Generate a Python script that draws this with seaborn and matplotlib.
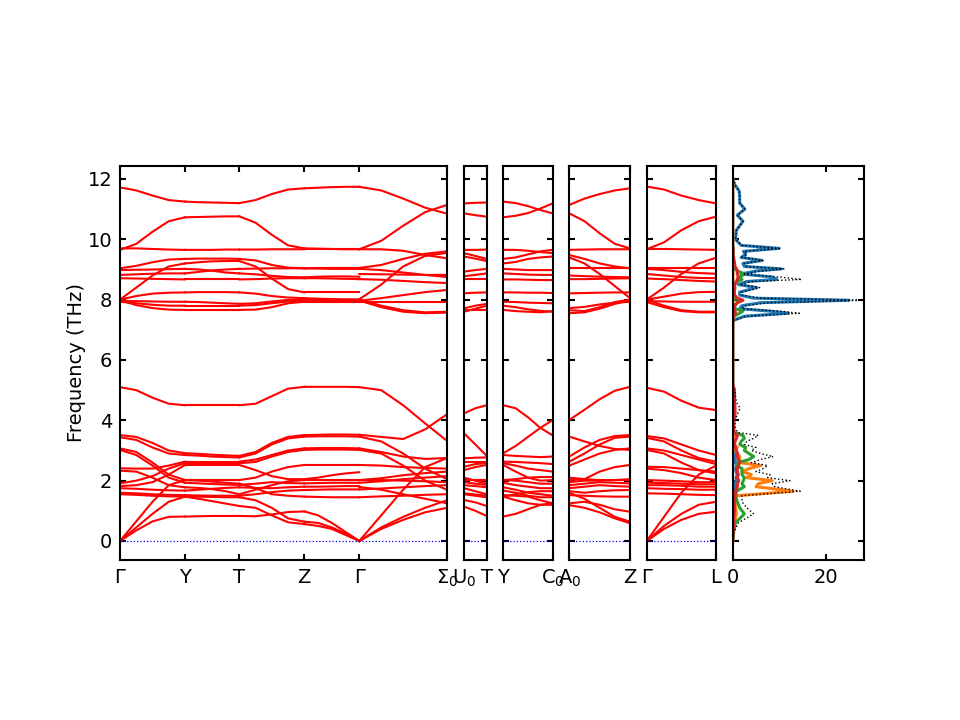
import numpy as np
import pandas as pd
import matplotlib
matplotlib.use("Agg")
import matplotlib.pyplot as plt
import seaborn as sns

# ---------------- band-structure data (THz) ----------------
# each segment: list of bands, values sampled evenly along the segment
labels_p1 = ["Γ", "Y", "T", "Z", "Γ", "Σ$_0$"]
lengths_p1 = [0.0650, 0.0543, 0.0650, 0.0550, 0.0877]
labels_p2 = ["U$_0$", "T"]
lengths_p2 = [0.0227]
labels_p3 = ["Y", "C$_0$"]
lengths_p3 = [0.0494]
labels_p4 = ["A$_0$", "Z"]
lengths_p4 = [0.0607]
labels_p5 = ["Γ", "L"]
lengths_p5 = [0.0693]

bands_G_Y = [
    [11.72, 11.62, 11.45, 11.30, 11.25], [9.65, 9.85, 10.25, 10.60, 10.73],
    [9.70, 9.70, 9.68, 9.66, 9.65], [9.04, 9.12, 9.24, 9.33, 9.35],
    [8.00, 8.40, 8.80, 9.10, 9.20], [8.98, 8.99, 9.00, 9.01, 9.02],
    [8.82, 8.84, 8.86, 8.87, 8.87], [8.71, 8.70, 8.69, 8.68, 8.67],
    [8.00, 8.12, 8.20, 8.23, 8.24], [7.96, 7.95, 7.94, 7.93, 7.93],
    [7.93, 7.88, 7.83, 7.80, 7.80], [7.98, 7.82, 7.72, 7.67, 7.66],
    [5.10, 5.00, 4.75, 4.55, 4.50], [3.51, 3.45, 3.25, 3.00, 2.91],
    [3.44, 3.35, 3.10, 2.90, 2.85], [3.07, 2.95, 2.60, 2.20, 2.02],
    [3.02, 2.85, 2.50, 2.10, 1.93], [2.41, 2.40, 2.40, 2.50, 2.63],
    [2.33, 2.30, 2.10, 1.85, 1.78], [1.91, 2.00, 2.15, 2.40, 2.58],
    [1.82, 1.85, 1.95, 2.20, 2.52], [1.75, 1.73, 1.70, 1.68, 1.67],
    [1.60, 1.58, 1.55, 1.53, 1.52], [1.55, 1.53, 1.50, 1.48, 1.47],
    [0.00, 0.65, 1.30, 1.85, 2.02], [0.00, 0.45, 0.90, 1.30, 1.47],
    [0.00, 0.35, 0.65, 0.80, 0.81],
]
bands_Y_T = [
    [11.25, 11.23, 11.22, 11.21, 11.20], [10.73, 10.74, 10.75, 10.76, 10.76],
    [9.65, 9.65, 9.65, 9.66, 9.66], [9.35, 9.36, 9.36, 9.36, 9.35],
    [9.20, 9.24, 9.27, 9.28, 9.28], [9.02, 9.00, 8.96, 8.90, 8.87],
    [8.87, 8.92, 8.97, 9.00, 9.02], [8.67, 8.67, 8.67, 8.67, 8.67],
    [8.24, 8.25, 8.25, 8.25, 8.24], [7.93, 7.92, 7.90, 7.88, 7.86],
    [7.80, 7.80, 7.80, 7.80, 7.80], [7.66, 7.66, 7.66, 7.66, 7.66],
    [4.50, 4.50, 4.50, 4.50, 4.50], [2.91, 2.89, 2.86, 2.84, 2.82],
    [2.85, 2.83, 2.80, 2.78, 2.77], [2.63, 2.63, 2.63, 2.63, 2.63],
    [2.58, 2.58, 2.58, 2.58, 2.58], [2.52, 2.52, 2.52, 2.52, 2.52],
    [2.02, 2.02, 2.02, 2.02, 2.02], [1.93, 1.91, 1.89, 1.87, 1.86],
    [1.78, 1.76, 1.72, 1.65, 1.55], [1.67, 1.70, 1.73, 1.76, 1.78],
    [1.52, 1.51, 1.50, 1.50, 1.50], [1.47, 1.40, 1.32, 1.24, 1.16],
    [0.81, 0.82, 0.83, 0.83, 0.83], [2.02, 2.00, 1.97, 1.93, 1.90],
    [1.47, 1.47, 1.46, 1.45, 1.45],
]
bands_T_Z = [
    [11.20, 11.30, 11.50, 11.65, 11.69], [10.76, 10.55, 10.15, 9.80, 9.70],
    [9.66, 9.66, 9.67, 9.67, 9.67], [9.35, 9.30, 9.15, 9.06, 9.04],
    [9.28, 9.10, 8.70, 8.35, 8.24], [9.02, 9.03, 9.04, 9.04, 9.04],
    [8.87, 8.84, 8.79, 8.75, 8.74], [8.67, 8.68, 8.70, 8.71, 8.71],
    [8.24, 8.20, 8.12, 8.07, 8.05], [7.86, 7.88, 7.94, 7.99, 8.00],
    [7.80, 7.82, 7.88, 7.94, 7.97], [7.66, 7.67, 7.75, 7.88, 7.93],
    [4.50, 4.55, 4.80, 5.05, 5.11], [2.82, 2.95, 3.25, 3.45, 3.51],
    [2.77, 2.90, 3.20, 3.40, 3.46], [2.63, 2.70, 2.85, 3.00, 3.07],
    [2.58, 2.62, 2.80, 2.95, 3.02], [2.52, 2.35, 2.15, 2.05, 2.05],
    [2.02, 2.10, 2.30, 2.45, 2.52], [1.86, 1.90, 1.95, 1.92, 1.91],
    [1.55, 1.70, 1.85, 1.98, 2.02], [1.78, 1.76, 1.75, 1.78, 1.80],
    [1.50, 1.55, 1.62, 1.67, 1.69], [1.16, 1.10, 0.85, 0.62, 0.56],
    [0.83, 0.82, 0.88, 0.96, 0.98], [1.90, 1.75, 1.55, 1.50, 1.47],
    [1.45, 1.35, 1.10, 0.75, 0.64],
]
bands_Z_G = [
    [11.69, 11.71, 11.73, 11.74, 11.74], [9.70, 9.69, 9.68, 9.67, 9.67],
    [9.67, 9.67, 9.67, 9.67, 9.67], [9.04, 9.05, 9.05, 9.05, 9.05],
    [8.24, 8.24, 8.24, 8.24, 8.24], [9.04, 9.03, 9.02, 9.02, 9.02],
    [8.74, 8.76, 8.77, 8.77, 8.76], [8.71, 8.71, 8.70, 8.69, 8.68],
    [8.05, 8.03, 8.02, 8.01, 8.01], [8.00, 8.00, 8.00, 8.00, 8.00],
    [7.97, 7.97, 7.96, 7.96, 7.96], [7.93, 7.93, 7.93, 7.93, 7.93],
    [5.11, 5.11, 5.11, 5.11, 5.10], [3.51, 3.52, 3.53, 3.53, 3.52],
    [3.46, 3.47, 3.47, 3.47, 3.46], [3.07, 3.08, 3.08, 3.08, 3.07],
    [3.02, 3.03, 3.03, 3.03, 3.02], [2.52, 2.52, 2.52, 2.52, 2.52],
    [2.05, 2.10, 2.18, 2.24, 2.28], [2.02, 2.02, 2.02, 2.02, 2.02],
    [1.91, 1.92, 1.93, 1.93, 1.93], [1.80, 1.80, 1.81, 1.82, 1.82],
    [1.69, 1.70, 1.71, 1.71, 1.71], [1.47, 1.46, 1.45, 1.45, 1.45],
    [0.98, 0.85, 0.60, 0.30, 0.00], [0.64, 0.60, 0.45, 0.25, 0.00],
    [0.56, 0.50, 0.40, 0.20, 0.00],
]
bands_G_S0 = [
    [11.74, 11.62, 11.35, 11.05, 10.85], [9.67, 9.95, 10.45, 10.90, 11.14],
    [9.67, 9.67, 9.62, 9.48, 9.37], [8.01, 8.50, 9.10, 9.45, 9.55],
    [9.05, 9.15, 9.35, 9.52, 9.60], [8.85, 8.84, 8.83, 8.82, 8.82],
    [9.02, 8.98, 8.90, 8.82, 8.75], [8.68, 8.66, 8.62, 8.58, 8.55],
    [7.96, 8.05, 8.15, 8.25, 8.32], [7.93, 7.93, 7.93, 7.93, 7.93],
    [8.00, 7.80, 7.65, 7.58, 7.60], [7.97, 7.75, 7.60, 7.55, 7.57],
    [5.10, 5.00, 4.50, 3.90, 3.32], [3.52, 3.45, 3.38, 3.70, 4.20],
    [3.46, 3.30, 2.90, 2.40, 2.05], [3.07, 2.95, 2.80, 2.72, 2.75],
    [3.02, 2.90, 2.50, 2.00, 1.70], [2.52, 2.50, 2.45, 2.42, 2.40],
    [2.02, 2.08, 2.18, 2.25, 2.30], [1.93, 1.98, 2.05, 2.10, 2.15],
    [1.79, 1.70, 1.55, 1.40, 1.25], [1.71, 1.74, 1.78, 1.82, 1.85],
    [1.45, 1.48, 1.50, 1.53, 1.55], [2.02, 2.02, 2.00, 1.98, 1.95],
    [0.00, 0.85, 1.70, 2.45, 2.75], [0.00, 0.45, 0.80, 1.10, 1.35],
    [0.00, 0.40, 0.70, 0.95, 1.10],
]
bands_U0_T = [
    [11.19, 11.21, 11.22], [10.86, 10.80, 10.75], [9.65, 9.65, 9.66],
    [9.54, 9.45, 9.35], [9.43, 9.36, 9.28], [8.93, 8.98, 9.02],
    [8.78, 8.82, 8.87], [8.67, 8.67, 8.67], [8.21, 8.23, 8.24],
    [7.71, 7.80, 7.86], [7.60, 7.70, 7.80], [7.65, 7.66, 7.66],
    [4.23, 4.40, 4.50], [3.57, 3.20, 2.82], [2.74, 2.76, 2.77],
    [2.63, 2.63, 2.63], [2.46, 2.55, 2.58], [2.35, 2.45, 2.52],
    [2.02, 2.02, 2.02], [1.95, 1.90, 1.86], [1.85, 1.82, 1.78],
    [1.75, 1.65, 1.55], [1.58, 1.54, 1.50], [1.36, 1.28, 1.16],
    [1.14, 1.00, 0.83], [2.10, 2.00, 1.90], [1.55, 1.50, 1.45],
]
bands_Y_C0 = [
    [11.25, 11.20, 11.10, 10.97, 10.86], [10.73, 10.78, 10.87, 11.02, 11.19],
    [9.65, 9.65, 9.62, 9.58, 9.54], [9.35, 9.40, 9.50, 9.60, 9.65],
    [9.20, 9.25, 9.35, 9.40, 9.43], [9.02, 9.00, 8.98, 8.98, 8.98],
    [8.87, 8.85, 8.83, 8.82, 8.82], [8.67, 8.67, 8.66, 8.65, 8.65],
    [8.24, 8.24, 8.23, 8.23, 8.22], [7.93, 7.92, 7.90, 7.89, 7.88],
    [7.80, 7.75, 7.68, 7.63, 7.60], [7.66, 7.62, 7.60, 7.58, 7.62],
    [4.50, 4.40, 4.10, 3.75, 3.50], [2.91, 3.15, 3.45, 3.75, 4.01],
    [2.85, 2.82, 2.80, 2.78, 2.80], [2.63, 2.62, 2.60, 2.58, 2.55],
    [2.58, 2.50, 2.40, 2.35, 2.30], [2.52, 2.30, 2.10, 2.00, 2.02],
    [2.02, 2.00, 1.95, 1.90, 1.90], [1.93, 1.85, 1.80, 1.75, 1.75],
    [1.78, 1.70, 1.60, 1.55, 1.50], [1.67, 1.60, 1.50, 1.45, 1.45],
    [1.52, 1.50, 1.47, 1.35, 1.25], [1.47, 1.35, 1.25, 1.20, 1.20],
    [0.81, 0.90, 1.05, 1.20, 1.25], [2.02, 2.05, 2.10, 2.12, 2.12],
    [1.47, 1.55, 1.62, 1.65, 1.65],
]
bands_A0_Z = [
    [11.14, 11.35, 11.50, 11.62, 11.69], [10.86, 10.60, 10.20, 9.85, 9.70],
    [9.65, 9.66, 9.67, 9.67, 9.67], [9.48, 9.35, 9.20, 9.10, 9.04],
    [9.40, 9.20, 8.85, 8.45, 8.05], [9.04, 9.04, 9.04, 9.04, 9.04],
    [8.80, 8.78, 8.76, 8.75, 8.74], [8.68, 8.68, 8.69, 8.70, 8.71],
    [8.21, 8.22, 8.23, 8.24, 8.24], [7.65, 7.62, 7.75, 7.92, 8.00],
    [7.55, 7.58, 7.70, 7.86, 7.97], [7.72, 7.76, 7.84, 7.90, 7.93],
    [4.01, 4.35, 4.70, 4.98, 5.11], [3.46, 3.30, 3.15, 3.05, 3.02],
    [2.80, 3.10, 3.35, 3.48, 3.51], [2.63, 2.90, 3.20, 3.42, 3.46],
    [2.50, 2.70, 2.90, 3.02, 3.07], [2.02, 2.05, 2.30, 2.45, 2.52],
    [1.95, 2.00, 2.00, 2.02, 2.05], [1.85, 1.90, 1.95, 1.93, 1.91],
    [1.75, 1.80, 1.85, 1.82, 1.80], [1.65, 1.60, 1.65, 1.68, 1.69],
    [1.52, 1.50, 1.48, 1.47, 1.47], [1.19, 1.10, 0.95, 0.75, 0.59],
    [1.25, 1.30, 1.20, 1.05, 0.97], [1.60, 1.40, 1.10, 0.80, 0.64],
    [2.10, 2.05, 2.02, 2.02, 2.02],
]
bands_G_L = [
    [11.75, 11.65, 11.45, 11.30, 11.19], [9.67, 9.90, 10.30, 10.60, 10.75],
    [9.68, 9.68, 9.67, 9.66, 9.65], [8.00, 8.40, 8.85, 9.20, 9.39],
    [9.04, 9.04, 9.04, 9.04, 9.04], [8.85, 8.80, 8.75, 8.72, 8.71],
    [8.70, 8.68, 8.65, 8.62, 8.60], [8.00, 8.10, 8.20, 8.25, 8.26],
    [7.95, 7.94, 7.93, 7.93, 7.93], [8.00, 7.80, 7.65, 7.60, 7.60],
    [7.92, 7.75, 7.62, 7.58, 7.58], [9.02, 8.98, 8.92, 8.88, 8.86],
    [5.08, 4.95, 4.65, 4.42, 4.34], [3.48, 3.40, 3.20, 3.00, 2.85],
    [3.42, 3.30, 3.00, 2.75, 2.63], [3.07, 3.00, 2.85, 2.70, 2.55],
    [3.02, 2.90, 2.60, 2.35, 2.24], [2.46, 2.45, 2.40, 2.35, 2.30],
    [2.40, 2.35, 2.25, 2.10, 2.02], [2.02, 2.00, 1.98, 1.95, 1.95],
    [1.85, 1.85, 1.83, 1.80, 1.80], [1.75, 1.73, 1.72, 1.70, 1.70],
    [1.58, 1.57, 1.55, 1.53, 1.52], [1.93, 1.92, 1.90, 1.88, 1.88],
    [0.00, 0.80, 1.60, 2.20, 2.50], [0.00, 0.50, 0.90, 1.20, 1.30],
    [0.00, 0.40, 0.70, 0.90, 0.97],
]

# ---------------- DOS data ----------------
dos_freq = [0.0, 0.3, 0.6, 0.9, 1.1, 1.3, 1.5, 1.65, 1.8, 1.9, 2.0, 2.1, 2.2, 2.3,
            2.4, 2.5, 2.6, 2.7, 2.8, 2.9, 3.0, 3.1, 3.2, 3.3, 3.4, 3.5, 3.6, 3.8,
            4.0, 4.2, 4.4, 4.6, 4.8, 5.0, 5.2, 7.3, 7.45, 7.55, 7.62, 7.7, 7.8,
            7.9, 7.98, 8.05, 8.15, 8.25, 8.4, 8.5, 8.6, 8.67, 8.75, 8.85, 8.95,
            9.02, 9.1, 9.2, 9.3, 9.4, 9.5, 9.6, 9.7, 9.8, 10.0, 10.3, 10.6, 10.8,
            11.0, 11.2, 11.4, 11.6, 11.8, 12.0]
dos_total = [0, 0.3, 1.2, 4.5, 3.0, 2.0, 2.0, 14.5, 9.0, 8.5, 12.3, 7.5, 8.0, 5.0,
             6.5, 7.5, 4.0, 6.0, 8.7, 6.0, 4.0, 5.0, 2.5, 3.0, 4.5, 5.5, 1.0, 0.5,
             0.5, 1.0, 1.6, 0.8, 0.6, 0.4, 0, 0, 3, 14.3, 10, 2, 2.5,
             8, 28.5, 6, 2, 2, 5.8, 1.5, 4, 14.8, 10, 2.5, 6,
             11, 3, 2.5, 6.5, 2, 3, 2.5, 10, 2, 0.6, 0.8, 2.2, 1.0,
             2.6, 1.5, 1.5, 1.4, 0.5, 0]
dos_site1 = [0, 0.05, 0.1, 0.2, 0.2, 0.2, 0.3, 0.4, 0.5, 0.5, 0.8, 0.7, 1.0, 0.7,
             0.6, 0.8, 0.6, 0.5, 0.6, 0.4, 0.3, 0.3, 0.2, 0.2, 0.2, 0.3, 0.1, 0.05,
             0.05, 0.05, 0.05, 0.05, 0.05, 0.05, 0, 0, 2.5, 12, 8, 1.5, 2,
             6, 25, 4.5, 1.5, 1.5, 5.2, 1.2, 3, 9.5, 8.5, 1.8, 5,
             10.5, 2.5, 2.2, 6.3, 1.8, 2.8, 2.3, 10, 1.8, 0.6, 0.8, 2.2, 1.0,
             2.6, 1.5, 1.5, 1.4, 0.5, 0]
dos_site2 = [0, 0.1, 0.4, 0.8, 0.6, 0.5, 0.8, 13, 5, 5.5, 8.5, 3, 4, 2,
             3.5, 6, 1.5, 1.5, 1.5, 1.0, 0.5, 1.0, 0.3, 0.3, 0.3, 0.3, 0.1, 0.05,
             0.05, 0.05, 0.05, 0.05, 0.05, 0.05, 0, 0, 0.05, 0.1, 0.1, 0.05, 0.05,
             0.05, 0.1, 0.05, 0.05, 0.05, 0.05, 0.05, 0.05, 0.1, 0.05, 0.05, 0.05,
             0.05, 0.05, 0.05, 0.05, 0, 0, 0, 0, 0, 0, 0, 0, 0,
             0, 0, 0, 0, 0, 0]
dos_site3 = [0, 0.2, 0.6, 2.5, 1.5, 1.0, 0.6, 0.8, 2.5, 2, 2.3, 2.5, 2.0, 2.0,
             2.0, 0.8, 1.2, 3.5, 4.5, 3.5, 2.5, 2.8, 1.5, 1.8, 2.5, 2.2, 0.3, 0.1,
             0.1, 0.2, 0.3, 0.2, 0.1, 0.1, 0, 0, 0.3, 1.5, 2.2, 0.5, 0.4,
             1.0, 1.5, 0.5, 0.3, 0.3, 0.5, 0.3, 1.0, 2.0, 1.5, 2.6, 1.0,
             0.5, 0.3, 0.2, 0.2, 0.1, 0.1, 0.1, 0.1, 0, 0, 0, 0, 0,
             0, 0, 0, 0, 0, 0]
dos_site4 = [0, 0.1, 0.2, 0.3, 0.4, 0.4, 0.5, 0.6, 1.0, 1.0, 1.3, 1.0, 1.2, 1.0,
             1.0, 1.2, 1.5, 1.2, 1.0, 1.0, 0.8, 0.6, 0.4, 0.5, 0.8, 1.0, 0.3, 0.2,
             0.3, 0.5, 0.5, 0.4, 0.4, 0.4, 0, 0, 0.2, 0.6, 0.5, 0.3, 0.4,
             1.0, 2.2, 1.0, 0.4, 0.3, 0.4, 0.4, 0.8, 1.0, 1.2, 1.0, 1.0,
             0.8, 0.5, 0.4, 0.3, 0.2, 0.1, 0.1, 0.1, 0, 0, 0, 0, 0,
             0, 0, 0, 0, 0, 0]

# ---------------- figure ----------------
plt.rcParams['font.family'] = ['DejaVu Sans']
fig = plt.figure(figsize=(9.6, 7.2), dpi=100)
W, H = 960.0, 720.0
top_px, bot_px = 166.0, 560.0
ylim = (-0.63, 12.43)


def make_ax(x0, x1):
    return fig.add_axes([x0 / W, (H - bot_px) / H, (x1 - x0) / W, (bot_px - top_px) / H])


def style_ax(ax, left_labels):
    for s in ax.spines.values():
        s.set_linewidth(1.5)
    ax.tick_params(axis='both', direction='in', top=True, right=True,
                   width=1.5, length=4.5, labelsize=14, pad=5.5)
    ax.tick_params(axis='y', labelleft=left_labels)
    ax.set_ylim(*ylim)
    ax.set_yticks([0, 2, 4, 6, 8, 10, 12])
    ax.set_xlabel("")
    ax.set_ylabel("")


def band_frame(segments, lengths):
    rows = []
    start = 0.0
    for si, (seg, L) in enumerate(zip(segments, lengths)):
        for bi, band in enumerate(seg):
            ks = np.linspace(start, start + L, len(band))
            for k, f in zip(ks, band):
                rows.append((k, f, f"{si}_{bi}"))
        start += L
    return pd.DataFrame(rows, columns=["k", "freq", "band"])


panels = [
    ((120.0, 447.0), [bands_G_Y, bands_Y_T, bands_T_Z, bands_Z_G, bands_G_S0], lengths_p1, labels_p1),
    ((464.0, 486.7), [bands_U0_T], lengths_p2, labels_p2),
    ((503.3, 552.7), [bands_Y_C0], lengths_p3, labels_p3),
    ((569.3, 630.0), [bands_A0_Z], lengths_p4, labels_p4),
    ((646.7, 716.0), [bands_G_L], lengths_p5, labels_p5),
]

for i, ((x0, x1), segs, lens, labs) in enumerate(panels):
    ax = make_ax(x0, x1)
    df = band_frame(segs, lens)
    total = float(np.sum(lens))
    sns.lineplot(data=df, x="k", y="freq", units="band", estimator=None, sort=False,
                 color="red", linewidth=1.5, ax=ax, legend=False)
    ax.axhline(0, color="blue", linestyle=":", linewidth=0.9)
    ax.set_xlim(0, total)
    ticks = np.concatenate([[0.0], np.cumsum(lens)])
    ax.set_xticks(ticks)
    ax.set_xticklabels(labs)
    style_ax(ax, left_labels=(i == 0))
    if i == 0:
        ax.set_ylabel("Frequency (THz)", fontsize=14, labelpad=1)

# DOS panel
axd = make_ax(732.7, 864.0)
dos_long = pd.DataFrame({
    "freq": dos_freq * 4,
    "dos": dos_site1 + dos_site2 + dos_site3 + dos_site4,
    "site": ["s1"] * len(dos_freq) + ["s2"] * len(dos_freq)
            + ["s3"] * len(dos_freq) + ["s4"] * len(dos_freq),
})
sns.lineplot(data=dos_long, x="dos", y="freq", hue="site", units="site",
             estimator=None, sort=False, orient="y",
             palette=["#1f77b4", "#ff7f0e", "#2ca02c", "#d62728"],
             linewidth=2.2, ax=axd, legend=False)
dos_tot = pd.DataFrame({"freq": dos_freq, "dos": dos_total})
sns.lineplot(data=dos_tot, x="dos", y="freq", estimator=None, sort=False, orient="y",
             color="black", linestyle=":", linewidth=1.0, ax=axd, legend=False)
axd.set_xlim(0, 28.2)
axd.set_xticks([0, 20])
style_ax(axd, left_labels=False)

fig.savefig("out.png", dpi=100)
